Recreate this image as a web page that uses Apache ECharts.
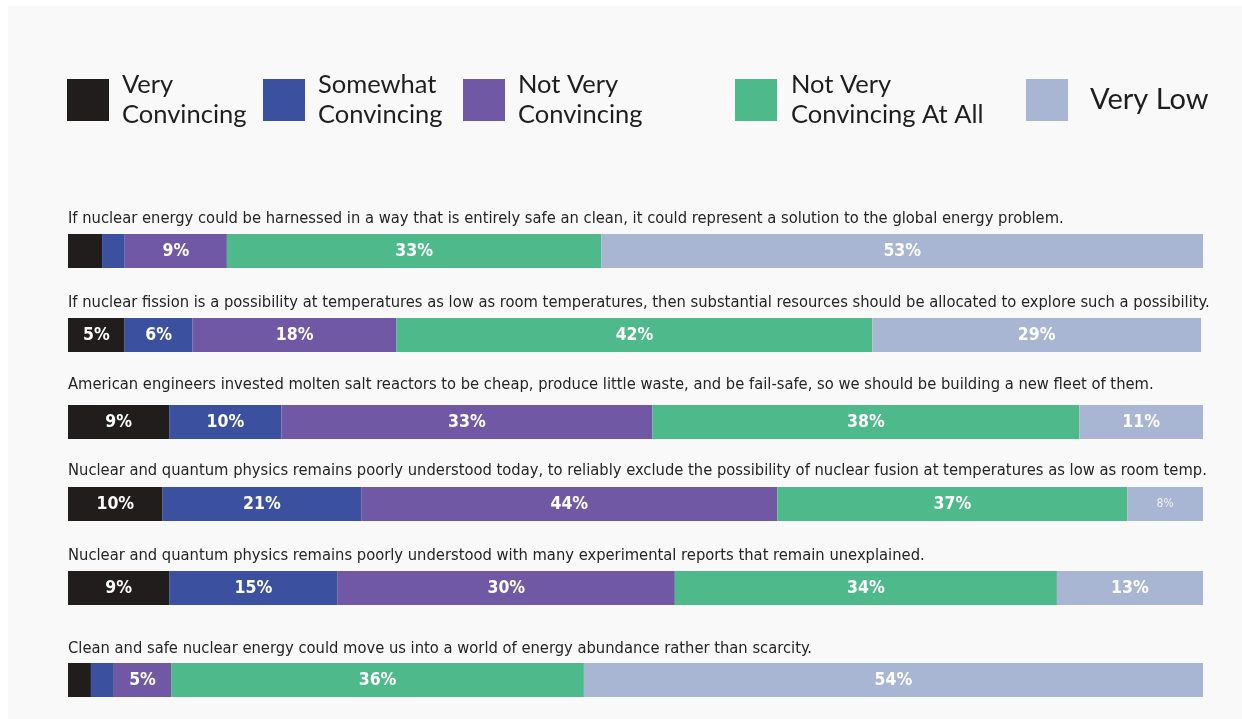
<!DOCTYPE html>
<html>
<head>
<meta charset="utf-8">
<title>Nuclear energy statements</title>
<script src="https://cdn.jsdelivr.net/npm/echarts@6/dist/echarts.min.js"></script>
<style>
  html, body { margin: 0; padding: 0; background: #ffffff; }
  #panel { position: absolute; left: 8px; top: 6px; right: 0; bottom: 0; background: #f9f9f9; }
  #chart { position: absolute; left: 0; top: 0; width: 1242px; height: 719px; }
</style>
</head>
<body>
<div id="panel"></div>
<div id="chart"></div>
<script>
// Response categories
const categories = ['Very Convincing', 'Somewhat Convincing', 'Not Very Convincing', 'Not Very Convincing At All', 'Very Low'];
const legendText = ['Very\nConvincing', 'Somewhat\nConvincing', 'Not Very\nConvincing', 'Not Very\nConvincing At All', 'Very Low'];

// Statements, one stacked bar each
const statements = [
  'If nuclear energy could be harnessed in a way that is entirely safe an clean, it could represent a solution to the global energy problem.',
  'If nuclear fission is a possibility at temperatures as low as room temperatures, then substantial resources should be allocated to explore such a possibility.',
  'American engineers invested molten salt reactors to be cheap, produce little waste, and be fail-safe, so we should be building a new fleet of them.',
  'Nuclear and quantum physics remains poorly understood today, to reliably exclude the possibility of nuclear fusion at temperatures as low as room temp.',
  'Nuclear and quantum physics remains poorly understood with many experimental reports that remain unexplained.',
  'Clean and safe nuclear energy could move us into a world of energy abundance rather than scarcity.'
];

// Percentages per category, one value per statement
const veryConvincing     = [3, 5, 9, 10, 9, 2];
const somewhatConvincing = [2, 6, 10, 21, 15, 2];
const notVeryConvincing  = [9, 18, 33, 44, 30, 5];
const notAtAll           = [33, 42, 38, 37, 34, 36];
const veryLow            = [53, 29, 11, 8, 13, 54];

// Segments printed without a value label: [statement, category]
const unlabeled = [[0, 0], [0, 1], [5, 0], [5, 1]];
// Segments with a small value label
const smallLabels = [[3, 4]];

const values = [veryConvincing, somewhatConvincing, notVeryConvincing, notAtAll, veryLow];
const colors = ['#211d1d', '#3b51a0', '#7158a5', '#4eb98a', '#a8b5d3'];

// Layout
const barTop = [234, 318, 405, 487, 571, 663];
const textMid = [219, 303, 385, 471, 556, 649];
const barH = 34;
const legendLeft = [67, 263, 463, 735, 1026];
const legendFontSize = [25.5, 25.5, 25.5, 25.5, 29];
const legendTextGap = [8, 8, 8, 9, 17];
const squareTop = 79, squareSize = 42, legendLine = 30;

const condensed = "'Liberation Sans Narrow','DejaVu Sans Condensed','Roboto Condensed',sans-serif";
const legendFont = "Lato,'Noto Sans',sans-serif";

const has = (list, r, c) => list.some(p => p[0] === r && p[1] === c);

const grids = [], xAxes = [], yAxes = [], titles = [], series = [];
statements.forEach((text, r) => {
  const total = values.reduce((s, arr) => s + arr[r], 0);
  grids.push({ left: 68, right: r === 1 ? 41 : 39, top: barTop[r], height: barH, containLabel: false });
  xAxes.push({ type: 'value', gridIndex: r, min: 0, max: total, show: false });
  yAxes.push({ type: 'category', gridIndex: r, data: [text], show: false });
  titles.push({
    text: text, left: 68, top: textMid[r] - 10, padding: 0,
    textStyle: { fontFamily: condensed, fontSize: 16.4, fontWeight: 'normal', color: '#242424', lineHeight: 20 }
  });
  categories.forEach((name, c) => {
    const small = has(smallLabels, r, c);
    series.push({
      type: 'bar',
      name: name,
      stack: 'row' + r,
      xAxisIndex: r,
      yAxisIndex: r,
      barWidth: barH,
      itemStyle: { color: colors[c] },
      label: {
        show: !has(unlabeled, r, c),
        position: 'inside',
        formatter: '{c}%',
        color: small ? '#eef0f6' : '#ffffff',
        fontFamily: condensed,
        fontWeight: small ? 'normal' : 'bold',
        fontSize: small ? 12 : 17.5
      },
      emphasis: { disabled: true },
      data: [values[c][r]]
    });
  });
});

const legends = categories.map((name, c) => {
  const lines = legendText[c].split('\n').length;
  const textH = lines * legendLine;
  return {
    data: [name],
    left: legendLeft[c],
    top: squareTop - Math.max(0, (textH - squareSize) / 2),
    padding: 0,
    icon: 'rect',
    itemWidth: squareSize,
    itemHeight: squareSize,
    selectedMode: false,
    formatter: () => legendText[c],
    textStyle: {
      fontFamily: legendFont, fontSize: legendFontSize[c], lineHeight: legendLine,
      color: '#1e1e1e', padding: [0, 0, 0, legendTextGap[c]]
    }
  };
});

const chart = echarts.init(document.getElementById('chart'), null, { renderer: 'canvas' });
chart.setOption({
  backgroundColor: 'transparent',
  animation: false,
  title: titles,
  legend: legends,
  grid: grids,
  xAxis: xAxes,
  yAxis: yAxes,
  tooltip: { show: false },
  series: series
});
</script>
</body>
</html>
